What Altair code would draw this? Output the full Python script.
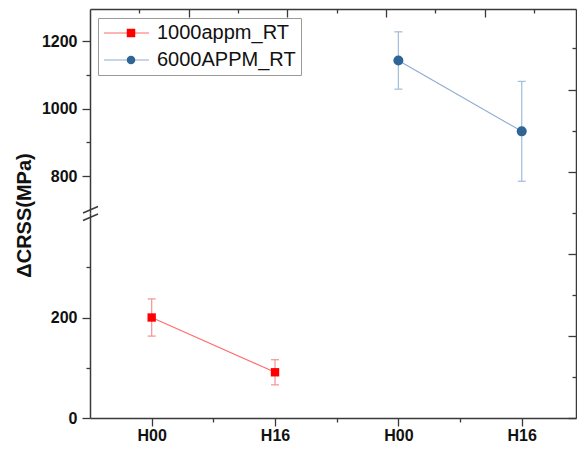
import json
import altair as alt
import pandas as pd

# ---- data ----
series = ["1000appm_RT", "1000appm_RT", "6000APPM_RT", "6000APPM_RT"]
x_pos = [1, 2, 3, 4]
x_labels = ["H00", "H16", "H00", "H16"]
values = [200, 91, 1143, 933]
errors = [37, 25, 85, 148]

series_names = ["1000appm_RT", "6000APPM_RT"]
marker_keys = ["m_1000appm_RT", "m_6000APPM_RT"]
marker_colors = ["#ff0000", "#2f6497"]
line_colors = ["#ff6b6b", "#8eabd0"]
err_colors = ["#f39a9a", "#a9c0dd"]
shapes = ["square", "circle"]

# axis tick values
lower_major = [0, 200]
lower_minor = [100, 300]
upper_major = [800, 1000, 1200]
upper_minor = [900, 1100]
x_major = [1, 2, 3, 4]
x_minor = [1.5, 2.5, 3.5]
top_long = [1.3, 2.1, 2.9, 3.7]
top_short = [0.9, 1.7, 2.5, 3.3, 4.1]
right_upper_long = [812, 1057]
right_upper_short = [935, 1180]
right_lower_long = [0, 163, 326]
right_lower_short = [81.5, 244.5, 408]

x_domain = [0.5, 4.44]
lower_domain = [0, 408]
upper_domain = [691, 1295.6]

df = pd.DataFrame({"series": series, "x": x_pos,
                   "label": x_labels, "y": values, "err": errors})
df["series_m"] = ["m_" + s for s in series]
df["lo"] = df["y"] - df["err"]
df["hi"] = df["y"] + df["err"]

W = 486
H_UP = 204
H_LOW = 205
FONT = "Liberation Sans"
AXC = "#3a3a3a"


def ax(**kw):
    base = dict(domainColor=AXC, domainWidth=1.5, tickColor=AXC, tickWidth=1.3,
                labelFont=FONT, labelFontWeight="bold", labelFontSize=16,
                labelColor="#111111", grid=False)
    base.update(kw)
    if "title" not in base:
        base["title"] = None
    return alt.Axis(**base)


label_expr = json.dumps(x_labels) + "[datum.value - 1]"

stroke_legend = alt.Legend(orient="none", legendX=8, legendY=9, title=None,
                           symbolType="M-1,0H4", symbolSize=324, symbolStrokeWidth=1.2,
                           labelFont=FONT, labelFontSize=20, labelColor="#111111",
                           labelOffset=34, padding=5, rowPadding=7,
                           strokeColor="#9a9a9a")
marker_legend = alt.Legend(orient="none", legendX=26, legendY=9, title=None,
                           symbolSize=72, symbolOpacity=1, symbolStrokeWidth=0,
                           labelFont=FONT, labelFontSize=20, labelOpacity=0,
                           labelExpr="' '", labelOffset=4, padding=5, rowPadding=7)


def panel(idx, ydomain, height, ymaj, ymin, rlong, rshort, lower):
    name = series_names[idx]
    xs = alt.Scale(domain=x_domain, nice=False, zero=False)
    ys = alt.Scale(domain=ydomain, nice=False, zero=False)
    base = alt.Chart(df).transform_filter(alt.datum.series == name)

    if lower:
        xa1 = ax(orient="bottom", values=x_major, tickSize=8, labelExpr=label_expr,
                 labelPadding=1, domain=True)
        xa2 = ax(orient="bottom", values=x_minor, tickSize=4, labels=False, domain=False)
        ya1 = ax(orient="left", values=ymaj, tickSize=8, format="d", labelPadding=5,
                 domain=True, title="ΔCRSS(MPa)", titleFont=FONT, titleFontSize=20,
                 titleFontWeight="bold", titleColor="#111111", titleAngle=270,
                 titleX=-66, titleY=2, titleAlign="center", titleBaseline="middle")
    else:
        xa1 = ax(orient="bottom", offset=-height, values=top_long, tickSize=8,
                 labels=False, domain=True)
        xa2 = ax(orient="bottom", offset=-height, values=top_short, tickSize=4,
                 labels=False, domain=False)
        ya1 = ax(orient="left", values=ymaj, tickSize=8, format="d", labelPadding=5,
                 domain=True)
    ya2 = ax(orient="left", values=ymin, tickSize=4, labels=False, domain=False)
    yr1 = ax(orient="left", offset=-W, values=rlong, tickSize=8, labels=False, domain=True)
    yr2 = ax(orient="left", offset=-W, values=rshort, tickSize=4, labels=False, domain=False)

    bars = base.mark_rule(color=err_colors[idx], strokeWidth=1.3).encode(
        x=alt.X("x:Q", scale=xs, axis=xa1),
        y=alt.Y("lo:Q", scale=ys, axis=ya1),
        y2="hi:Q",
    )
    caps = base.transform_fold(["lo", "hi"], as_=["k", "v"]).mark_tick(
        color=err_colors[idx], orient="horizontal", size=8, thickness=1.3, opacity=1
    ).encode(
        x=alt.X("x:Q", scale=xs, axis=xa2),
        y=alt.Y("v:Q", scale=ys, axis=ya2),
    )
    line = base.mark_line(strokeWidth=1.1).encode(
        x=alt.X("x:Q", scale=xs, axis=None),
        y=alt.Y("y:Q", scale=ys, axis=yr1),
        stroke=alt.Stroke("series:N", scale=alt.Scale(domain=series_names, range=line_colors),
                          legend=stroke_legend),
    )
    pts = base.mark_point(filled=True, opacity=1, size=70 if lower else 100).encode(
        x=alt.X("x:Q", scale=xs, axis=None),
        y=alt.Y("y:Q", scale=ys, axis=yr2),
        fill=alt.Fill("series_m:N", scale=alt.Scale(domain=marker_keys, range=marker_colors),
                      legend=marker_legend),
        shape=alt.Shape("series_m:N", scale=alt.Scale(domain=marker_keys, range=shapes),
                        legend=marker_legend),
    )
    layers = [bars, caps, line, pts]
    if lower:
        brk = pd.DataFrame({"a": [0]})
        b1 = alt.Chart(brk).mark_rule(color=AXC, strokeWidth=1.4).encode(
            x=alt.value(-7), x2=alt.value(8), y=alt.value(0), y2=alt.value(-6.5))
        b2 = alt.Chart(brk).mark_rule(color=AXC, strokeWidth=1.4).encode(
            x=alt.value(-7), x2=alt.value(8), y=alt.value(7.5), y2=alt.value(1))
        layers += [b1, b2]
    return alt.layer(*layers).resolve_axis(x="independent", y="independent").properties(
        width=W, height=height)


upper = panel(1, upper_domain, H_UP, upper_major, upper_minor,
              right_upper_long, right_upper_short, False)
lower = panel(0, lower_domain, H_LOW, lower_major, lower_minor,
              right_lower_long, right_lower_short, True)

chart = alt.vconcat(upper, lower, spacing=0, bounds="flush").resolve_scale(
    stroke="shared", fill="shared", shape="shared"
).properties(
    padding={"left": 5, "top": 0, "right": 0, "bottom": 0}
).configure_view(stroke=None)

chart.save("out.html", embed_options={"renderer": "svg", "actions": False})
